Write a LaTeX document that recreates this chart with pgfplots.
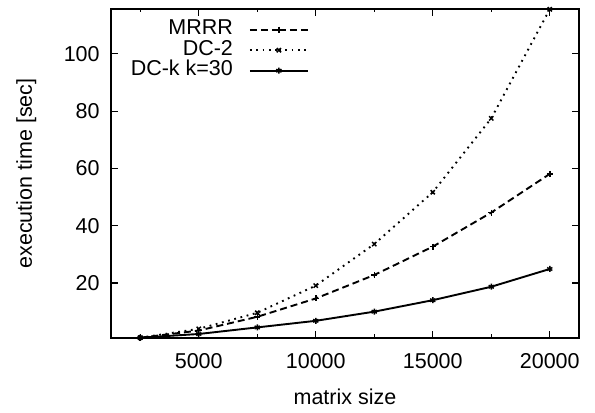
\documentclass[border=0pt]{standalone}
\usepackage{fontspec}
\setmainfont{Liberation Sans}
\usepackage{pgfplots}
\pgfplotsset{compat=1.18}
\begin{document}
\fontsize{21.5bp}{25bp}\selectfont
\begin{tikzpicture}
\begin{axis}[
  name=ax,
  scale only axis,
  width=468bp, height=329bp,
  xmin=1250, xmax=21250,
  ymin=0.8, ymax=115.7,
  xtick={5000,10000,15000,20000},
  minor xtick={2500,7500,12500,17500},
  ytick={20,40,60,80,100},
  tick align=inside,
  major tick length=7bp,
  minor tick length=3.5bp,
  tick style={line width=1.1bp, black},
  axis line style={line width=1.3bp},
  /pgf/number format/assume math mode=true,
  /pgf/number format/set thousands separator={},
  scaled ticks=false,
  xticklabel style={yshift=-8bp},
  yticklabel style={xshift=-4bp},
  xlabel={matrix size},
  ylabel={execution time [sec]},
  xlabel style={yshift=-6bp},
  ylabel style={yshift=13bp},
  legend plot pos=right,
  legend cell align=right,
  legend style={draw=none, fill=none, at={(0.4295,0.975)}, anchor=north east,
    row sep=0bp, font=\fontsize{21.5bp}{25bp}\selectfont,
    nodes={text height=15bp, text depth=4.5bp, inner ysep=0.5bp}},
  legend image code/.code={\path (0bp,0bp); \draw[#1] (14bp,0bp) -- (43bp,0bp) plot coordinates {(43bp,0bp)} -- (72bp,0bp);},
  every axis plot/.append style={line width=1.9bp, black, mark size=3bp, mark options={solid, line width=1.5bp}},
]
\addplot[dash pattern=on 7bp off 4bp, mark=+] coordinates {
 (2500,0.9) (5000,3.4) (7500,8.2) (10000,14.6) (12500,22.8) (15000,32.7) (17500,44.6) (20000,58.1)};
\addlegendentry{MRRR}
\addplot[dash pattern=on 1.8bp off 4.6bp, mark=x] coordinates {
 (2500,0.9) (5000,4.0) (7500,9.6) (10000,19.1) (12500,33.6) (15000,51.7) (17500,77.5) (20000,115.6)};
\addlegendentry{DC-2}
\addplot[solid, mark=asterisk] coordinates {
 (2500,0.9) (5000,2.2) (7500,4.5) (10000,6.8) (12500,10.0) (15000,14.0) (17500,18.7) (20000,24.9)};
\addlegendentry{DC-k k=30}
\end{axis}
\path (ax.south west) ++(-111bp,-70bp);
\path (ax.north east) ++(16bp,9bp);
\end{tikzpicture}
\end{document}
